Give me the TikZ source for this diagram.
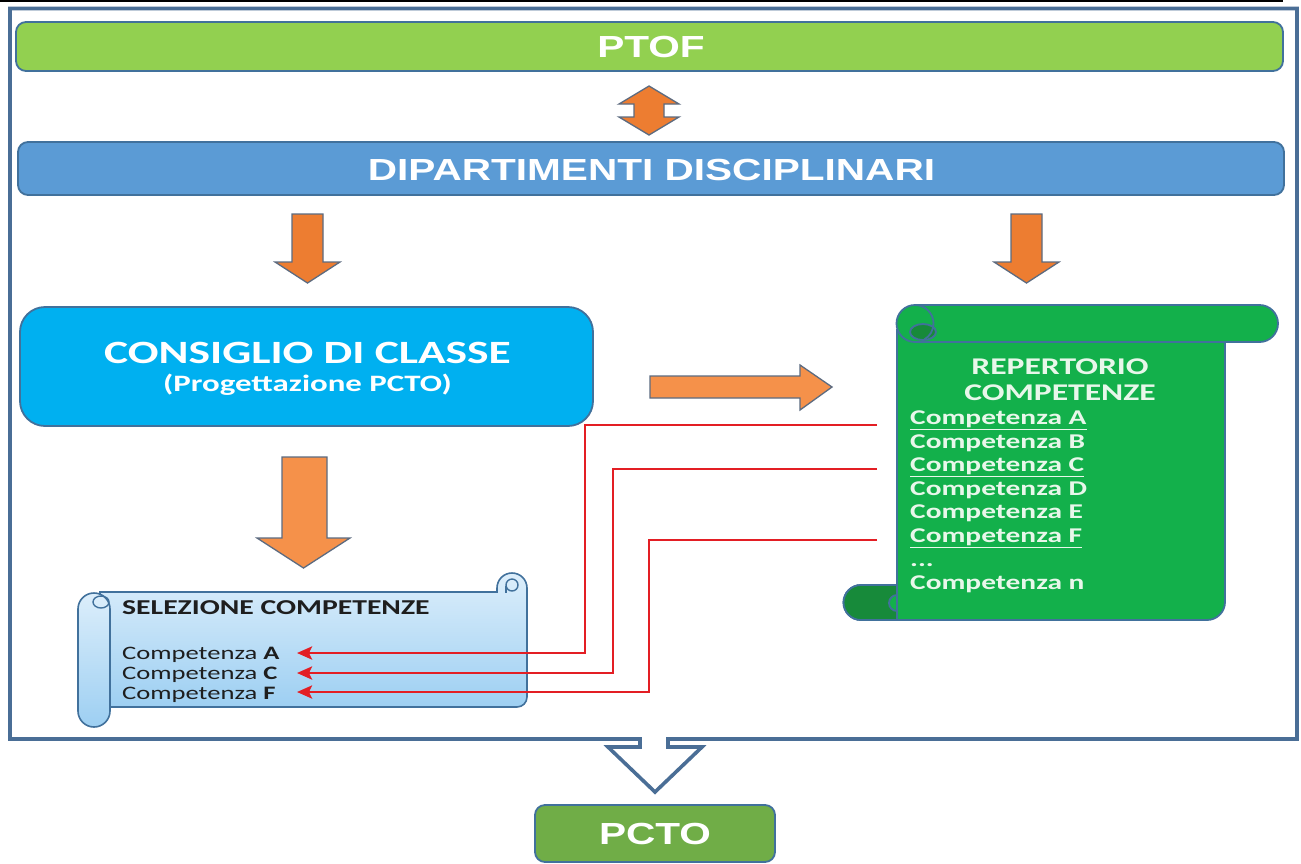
\documentclass[tikz,border=0pt]{standalone}
\usepackage{fontspec}
\setmainfont{Carlito}
\newfontfamily\arialx[FakeStretch=1.33]{Liberation Sans}
\newfontfamily\calx[FakeStretch=1.4]{Carlito}
\usetikzlibrary{arrows.meta}
\definecolor{framec}{HTML}{4A6E96}
\definecolor{olc}{HTML}{41719C}
\definecolor{ptofg}{HTML}{92D050}
\definecolor{dipb}{HTML}{5B9BD5}
\definecolor{consb}{HTML}{00B0F0}
\definecolor{pctog}{HTML}{70AD47}
\definecolor{orA}{HTML}{ED7D31}
\definecolor{orB}{HTML}{F5914A}
\definecolor{arrol}{HTML}{5C6B80}
\definecolor{scrg}{HTML}{13B04B}
\definecolor{curlg}{HTML}{178A3A}
\definecolor{scrtxt}{HTML}{E8F7EA}
\definecolor{redl}{HTML}{E31E24}
\definecolor{selT}{HTML}{DCEEFB}
\definecolor{selB}{HTML}{9DCFF2}
\definecolor{seltxt}{HTML}{1E1E1E}
\tikzset{
  bar/.style={draw=olc, line width=1.8pt, rounded corners=10pt, inner sep=0pt},
  barfont/.style={font={\arialx\bfseries\fontsize{30.5}{30.5}\selectfont}, text=white},
  blockA/.style={draw=arrol, line width=1.3pt, fill=orA, line join=miter},
  blockB/.style={draw=arrol, line width=1.3pt, fill=orB, line join=miter},
  scroll/.style={draw=olc, line width=1.8pt, fill=scrg},
  curl/.style={draw=olc, line width=1.8pt, fill=curlg},
  selscroll/.style={draw=olc, line width=1.6pt, top color=selT, bottom color=selB},
  reptxt/.style={font={\calx\bfseries\fontsize{21}{21}\selectfont}, text=scrtxt, anchor=base west, inner sep=0pt},
  seltx/.style={font={\calx\fontsize{19}{19}\selectfont}, text=seltxt, anchor=base west, inner sep=0pt},
  redarr/.style={draw=redl, line width=2.7pt, -{Stealth[length=15pt,width=13pt,inset=3pt]}}
}
\begin{document}
\begin{tikzpicture}[x=1pt,y=-1pt]
\useasboundingbox (0,0) rectangle (1301,863);
\fill[white] (0,0) rectangle (1301,863);
\draw[black, line width=2.5pt] (0,1) -- (1283,1);

% outer frame with hollow arrow
\draw[framec, line width=3.6pt, line join=miter] (640,739) -- (10,739) -- (10,8.5) -- (1297,8.5) -- (1297,739) -- (668,739) -- (668,747) -- (702,747) -- (655,792) -- (608,747) -- (640,747) -- cycle;

% bars
\node[bar, fill=ptofg, minimum width=1267pt, minimum height=49pt] (ptof) at (649.5,46.5) {};
\node[barfont] (ptofT) at (651,47) {PTOF};
\node[bar, fill=dipb, minimum width=1266pt, minimum height=53pt] (dip) at (651,168.5) {};
\node[barfont] (dipT) at (651.5,170) {DIPARTIMENTI DISCIPLINARI};

% double arrow
\draw[blockA] (649,86) -- (679,104) -- (664,104) -- (664,117) -- (679,117) -- (649,135) -- (619,117) -- (634,117) -- (634,104) -- (619,104) -- cycle;

% down arrows
\draw[blockA] (292,214) -- (323,214) -- (323,262) -- (340,262) -- (307.5,283) -- (275,262) -- (292,262) -- cycle;
\draw[blockA] (1011,214) -- (1042,214) -- (1042,262) -- (1059,262) -- (1026.5,283) -- (994,262) -- (1011,262) -- cycle;

% consiglio
\node[bar, fill=consb, rounded corners=25pt, minimum width=573pt, minimum height=119pt] (cons) at (306.5,366.5) {};
\node[font={\calx\bfseries\fontsize{32.5}{32.5}\selectfont}, text=white] (consT) at (307.5,353) {CONSIGLIO DI CLASSE};
\node[font={\calx\bfseries\fontsize{23.5}{23.5}\selectfont}, text=white] (consS) at (307.5,385) {(Progettazione PCTO)};

% right arrow
\draw[blockB] (650,376) -- (800,376) -- (800,365) -- (832,387) -- (800,410) -- (800,398) -- (650,398) -- cycle;
% big down arrow
\draw[blockB] (282,457) -- (327,457) -- (327,538) -- (350,538) -- (303.5,568) -- (257,538) -- (282,538) -- cycle;

% green scroll (repertorio)
\path[scroll] (897,330) -- (897,585) -- (861,585) arc[start angle=270,end angle=90,radius=17.5] -- (1207,620) arc[start angle=90,end angle=0,radius=18] -- (1225,330) -- cycle;
\path[curl] (897,585) -- (861,585) arc[start angle=270,end angle=90,radius=17.5] -- (897,620) -- cycle;
\path[scroll] (897,595) arc[start angle=270,end angle=90,radius=8] -- cycle;
\path[scroll] (915,305) -- (1259.5,305) arc[start angle=270,end angle=450,radius=18.5] -- (915,342) arc[start angle=90,end angle=270,radius=18.5] -- cycle;
\path[curl] (923,332) ellipse[x radius=13, y radius=8];
\draw[olc, line width=1.8pt] (915,305) arc[start angle=270,end angle=420,radius=18.5];

\node[font={\calx\bfseries\fontsize{24}{24}\selectfont}, text=scrtxt] (repT1) at (1060,367) {REPERTORIO};
\node[font={\calx\bfseries\fontsize{24}{24}\selectfont}, text=scrtxt] (repT2) at (1060,393) {COMPETENZE};
\node[reptxt] (rA) at (910,424.5) {\underline{Competenza A}};
\node[reptxt] (rB) at (910,448) {Competenza B};
\node[reptxt] (rC) at (910,471.5) {\underline{Competenza C}};
\node[reptxt] (rD) at (910,495.5) {Competenza D};
\node[reptxt] (rE) at (910,518.5) {Competenza E};
\node[reptxt] (rF) at (910,542.5) {\underline{Competenza F}};
\node[reptxt] (rdots) at (910,566) {...};
\node[reptxt] (rN) at (910,589.5) {Competenza n};

% selection scroll
\path[selscroll] (100,592) -- (497,592) -- (497,588) arc[start angle=180,end angle=360,radius=15] -- (527,697) arc[start angle=0,end angle=90,radius=10] -- (100,707) -- cycle;
\draw[olc, line width=1.4pt] (512,585) circle[radius=6];
\draw[olc, line width=1.4pt] (506,586) -- (506,593);
\path[selscroll] (78,609) arc[start angle=180,end angle=360,radius=16] -- (110,711) arc[start angle=0,end angle=180,radius=16] -- cycle;
\draw[olc, line width=1.4pt] (101,602) ellipse[x radius=8, y radius=6];

\node[font={\calx\bfseries\fontsize{21.2}{21.2}\selectfont}, text=seltxt, anchor=base west, inner sep=0pt] (selT) at (122,614.5) {SELEZIONE COMPETENZE};
\node[seltx] (sA) at (122,659) {Competenza \textbf{A}};
\node[seltx] (sC) at (122,679) {Competenza \textbf{C}};
\node[seltx] (sF) at (122,699) {Competenza \textbf{F}};

% red connectors
\coordinate (oA) at (877,425);
\coordinate (oC) at (877,469);
\coordinate (oF) at (877,540);
\coordinate (kA) at (585,653);
\coordinate (kC) at (613,673);
\coordinate (kF) at (649,692);
\coordinate (eA) at (297,653);
\coordinate (eC) at (297,673);
\coordinate (eF) at (297,692);
\draw[redarr] (oA) -| (kA) -- (eA);
\draw[redarr] (oC) -| (kC) -- (eC);
\draw[redarr] (oF) -| (kF) -- (eF);

% PCTO
\node[bar, fill=pctog, minimum width=240pt, minimum height=57pt] (pcto) at (655,833.5) {};
\node[barfont] (pctoT) at (655,834) {PCTO};
\end{tikzpicture}
\end{document}
